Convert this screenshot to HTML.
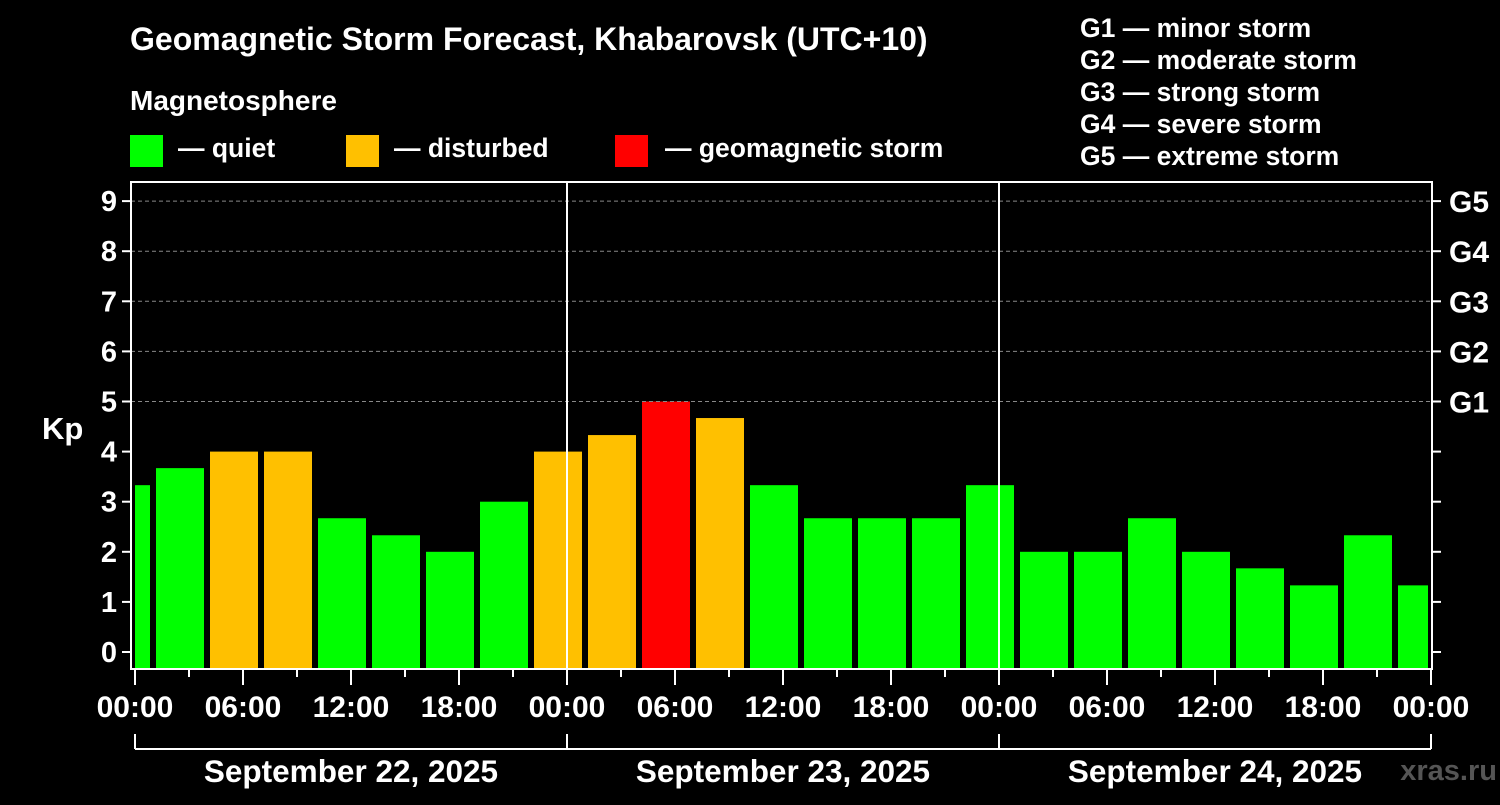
<!DOCTYPE html>
<html><head><meta charset="utf-8"><style>
body{margin:0;background:#000;}
svg text{font-family:"Liberation Sans",Arial,sans-serif;font-weight:bold;fill:#fff;}
</style></head><body>
<svg id="c" width="1500" height="800" viewBox="0 0 1500 800">
<rect width="1500" height="800" fill="#000"/>
<text x="130" y="50" font-size="32">Geomagnetic Storm Forecast, Khabarovsk (UTC+10)</text>
<text x="130" y="110" font-size="28">Magnetosphere</text>
<g><rect x="130" y="135" width="33" height="32" fill="#00ff00"/><text x="178" y="157" font-size="26.5">— quiet</text></g>
<g><rect x="346" y="135" width="33" height="32" fill="#ffc000"/><text x="394" y="157" font-size="26.5">— disturbed</text></g>
<g><rect x="615" y="135" width="33" height="32" fill="#ff0000"/><text x="665" y="157" font-size="26.5">— geomagnetic storm</text></g>
<g font-size="26.5">
<text x="1080" y="37">G1 — minor storm</text>
<text x="1080" y="69">G2 — moderate storm</text>
<text x="1080" y="101">G3 — strong storm</text>
<text x="1080" y="133">G4 — severe storm</text>
<text x="1080" y="165">G5 — extreme storm</text>
</g>
<text x="42" y="439" font-size="31">Kp</text>
<text x="1497" y="780" font-size="29" text-anchor="end" style="fill:#555">xras.ru</text>
<g id="bars"></g>
<g id="axes"></g>
</svg>
<script>
const kpValues=[3.33,3.67,4,4,2.67,2.33,2,3,4,4.33,5,4.67,3.33,2.67,2.67,2.67,3.33,2,2,2.67,2,1.67,1.33,2.33,1.33];
const barHours=kpValues.map((v,i)=>-0.5+3*i);
const yTicks=[0,1,2,3,4,5,6,7,8,9];
const gLabels=["G1","G2","G3","G4","G5"];
const gLevels=[5,6,7,8,9];
const xTickLabels=["00:00","06:00","12:00","18:00","00:00","06:00","12:00","18:00","00:00","06:00","12:00","18:00","00:00"];
const dayLabels=["September 22, 2025","September 23, 2025","September 24, 2025"];
const NS="http://www.w3.org/2000/svg";
const L=131,R=1432,T=182,B=669;
const X=h=>135+18*h;
const Y=v=>652-50.1*v;
function mk(tag,a,parent,txt){const e=document.createElementNS(NS,tag);for(const k in a)e.setAttribute(k,a[k]);if(txt!=null)e.textContent=txt;parent.appendChild(e);return e;}
const bars=document.getElementById('bars'),ax=document.getElementById('axes');
gLevels.forEach(g=>{const l=mk('line',{x1:L,x2:R,y1:Y(g),y2:Y(g),stroke:'#888','stroke-dasharray':'4,3','stroke-width':1},ax);

});
kpValues.forEach((v,i)=>{const c=barHours[i];let x1=X(c-1.5)+3,x2=X(c+1.5)-3;x1=Math.max(x1,L+4);x2=Math.min(x2,R-4);
const col=v>=5?'#ff0000':(v>=4?'#ffc000':'#00ff00');
const r=mk('rect',{x:x1,y:Y(v),width:x2-x1,height:B-Y(v),fill:col},bars);

});
[1,2].forEach(d=>{const l=mk('line',{x1:X(24*d),x2:X(24*d),y1:T,y2:B,stroke:'#fff','stroke-width':2},ax);

});
const fr=mk('rect',{x:L,y:T,width:R-L,height:B-T,fill:'none',stroke:'#fff','stroke-width':2},ax);


yTicks.forEach(t=>{mk('line',{x1:L-9,x2:L,y1:Y(t),y2:Y(t),stroke:'#fff','stroke-width':2},ax);
mk('line',{x1:R,x2:R+9,y1:Y(t),y2:Y(t),stroke:'#fff','stroke-width':2},ax);
const tx=mk('text',{x:L-14,y:Y(t)+10,'font-size':29,'text-anchor':'end'},ax,String(t));

});
gLabels.forEach((g,i)=>{const tx=mk('text',{x:1449,y:Y(gLevels[i])+11,'font-size':30},ax,g);

});
for(let h=0;h<=72;h+=3){const major=h%6===0;mk('line',{x1:X(h),x2:X(h),y1:B,y2:B+(major?16:8),stroke:'#fff','stroke-width':2},ax);}
xTickLabels.forEach((s,i)=>{const tx=mk('text',{x:X(6*i),y:717,'font-size':30,'text-anchor':'middle'},ax,s);

});
mk('line',{x1:X(0),x2:X(72),y1:749,y2:749,stroke:'#fff','stroke-width':2},ax);
[0,1,2,3].forEach(d=>mk('line',{x1:X(24*d),x2:X(24*d),y1:734,y2:749,stroke:'#fff','stroke-width':2},ax));
dayLabels.forEach((s,i)=>{const tx=mk('text',{x:X(24*i+12),y:782,'font-size':31.5,'text-anchor':'middle'},ax,s);

});
</script>
</body></html>
